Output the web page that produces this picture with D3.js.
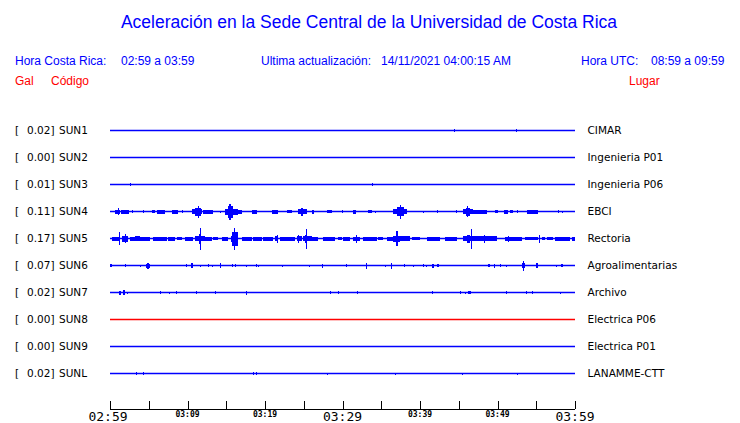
<!DOCTYPE html>
<html><head><meta charset="utf-8">
<script src="https://cdn.jsdelivr.net/npm/d3@7"></script>
<style>body{margin:0;background:#fff}svg{display:block}</style>
</head><body>
<script>
// ---- data ----
const codes = ["SUN1","SUN2","SUN3","SUN4","SUN5","SUN6","SUN7","SUN8","SUN9","SUNL"];
const peaks = ["0.02","0.00","0.01","0.11","0.17","0.07","0.02","0.00","0.00","0.02"];
const places = ["CIMAR","Ingenieria P01","Ingenieria P06","EBCI","Rectoria","Agroalimentarias","Archivo","Electrica P06","Electrica P01","LANAMME-CTT"];
const traceColors = ["blue","blue","blue","blue","blue","blue","blue","red","blue","blue"];
const tickMinutes = [0,5,10,15,20,25,30,35,40,45,50,55,60];
const tickLabels = ["02:59","03:09","03:19","03:29","03:39","03:49","03:59"];
const labelMinutes = [0,10,20,30,40,50,60];
const bigLabels = ["02:59","03:29","03:59"];
// events per station: [startMinute, endMinute, relative amplitude]
const sun1 = [[44.4,44.5,1.5],[52.4,52.5,1.5]];
const sun2 = [];
const sun3 = [[2.6,2.7,1.5],[33.8,33.9,1.5]];
const sun4 = [[0.6,1.3,2],[1.0,1.1,3.5],[1.4,2.4,2],[2.9,3.0,1.5],[4.2,4.3,1.5],[5.4,5.8,1.5],[6.1,7.1,2],[8.0,8.8,2],[9.3,9.4,1.5],[10.6,11.9,2.5],[11.0,11.7,4],[11.3,11.4,6],[12.0,13.3,2],[14.2,14.3,1],[14.8,16.5,3],[15.2,15.9,6],[15.4,15.6,8],[16.5,17.0,2],[18.3,19.0,2],[20.9,21.7,2],[22.8,23.5,1.5],[24.2,25.4,2.5],[24.6,24.9,4],[26.1,26.3,2],[28.0,28.7,1.5],[29.9,30.1,1.5],[31.3,31.8,2],[33.3,33.8,1.5],[34.2,34.3,1],[36.5,38.3,2.5],[37.0,37.9,4.5],[37.4,37.6,7],[40.4,40.5,1],[42.2,42.3,1.5],[44.7,44.8,1.5],[45.6,46.8,2.5],[45.9,46.4,4],[46.0,46.1,5.5],[46.8,48.6,2],[49.7,50.1,1.5],[50.8,51.4,2],[51.6,52.0,1.5],[52.5,52.6,1.5],[53.8,55.2,2],[57.8,57.9,1.5],[58.3,58.4,1]];
const sun5 = [[0.26,1.3,2],[1.16,1.25,6.5],[1.5,2.3,3],[1.9,2.0,4.5],[2.6,3.2,2],[3.2,3.9,2.5],[3.9,5.2,2],[5.5,7.4,2],[7.5,8.4,2],[8.6,9.3,1.5],[9.7,10.7,2],[11.0,12.3,2.5],[11.5,11.8,5],[11.6,11.7,11],[12.3,13.2,2],[13.3,13.9,1.5],[14.4,15.2,2],[15.6,16.5,3],[15.7,16.5,7],[16.0,16.1,11],[17.0,18.3,2],[18.4,19.6,2],[19.7,21.0,2],[21.3,21.7,2.5],[21.5,21.6,4],[21.9,23.9,2],[24.1,24.8,2.5],[24.2,24.3,4],[24.9,26.0,2.5],[25.2,25.4,4],[25.3,25.4,10],[26.1,26.8,2],[27.5,29.0,2],[29.4,29.9,1.5],[30.1,31.0,2],[31.3,32.3,2],[31.8,31.9,4],[32.6,34.4,2],[34.6,35.2,1.5],[35.7,36.5,2],[36.5,37.4,3],[36.9,37.1,7.5],[37.4,38.7,2.5],[39.0,40.0,1.5],[40.9,42.6,2],[43.2,44.8,2],[45.5,46.7,2.5],[46.0,46.5,4],[46.6,46.7,10],[46.7,49.9,2.5],[48.3,48.4,4],[51.0,53.2,2],[51.3,51.4,3],[53.6,55.2,1.5],[55.4,55.5,4],[55.7,56.1,1.5],[56.4,57.2,1.5],[57.4,59.4,2],[59.6,60,2]];
const sun6 = [[0,0.3,1.5],[1.9,2.0,1.5],[3.9,4.0,1],[4.6,5.2,2],[4.8,5.0,3],[9.8,9.9,1.5],[10.5,10.7,2.5],[11.6,11.7,1],[12.6,12.7,1.5],[13.2,13.3,1],[14.2,14.3,2.5],[15.8,15.9,1.5],[16.1,16.2,1.5],[17.5,17.6,1],[18.8,18.9,1.5],[19.1,19.2,1],[21.4,21.5,0.8],[22.2,22.3,1],[24.3,24.4,0.8],[25.7,25.8,1],[27.3,27.5,2],[30.5,30.6,1.5],[33.0,33.1,3],[35.5,35.6,1],[36.2,36.3,3],[37.9,38.1,1.5],[39.1,39.2,1],[40.4,40.5,1.5],[40.8,40.9,1],[41.6,41.8,2],[42.2,42.5,1.5],[48.8,49.0,1.5],[49.5,49.6,2],[50.3,50.4,1.5],[51.1,51.2,1],[53.2,53.5,2.5],[53.3,53.4,5],[55.0,55.2,2.5],[57.6,57.7,1],[58.2,58.4,1.5]];
const sun7 = [[1.1,1.4,2],[1.7,1.9,2.5],[2.2,2.3,1],[6.4,6.5,1.5],[7.6,7.7,1],[8.5,8.7,1.5],[11.1,11.2,1.5],[13.5,13.6,1.5],[17.5,17.6,2],[28.4,28.5,1.5],[29.4,29.5,1.5],[31.9,32.0,1.5],[41.5,41.6,1.5],[45.1,45.2,1.5],[45.8,45.9,1],[46.2,46.6,1.5],[51.1,51.2,1.5],[53.7,53.8,1.5],[54.5,54.6,1.5],[58.0,58.1,1]];
const sun8 = [];
const sun9 = [];
const sunl = [[3.4,3.5,1.5],[4.2,4.3,1.5],[18.4,18.5,1.5],[18.8,18.9,1.5],[28.0,28.1,1],[36.8,36.9,1],[45.4,45.5,1],[52.5,52.6,1]];
const events = [sun1,sun2,sun3,sun4,sun5,sun6,sun7,sun8,sun9,sunl];

// ---- drawing ----
const W = 740, H = 423;
const svg = d3.select("body").append("svg").attr("width", W).attr("height", H);
const x = d3.scaleLinear().domain([0,60]).range([110,575]);
const y = d3.scalePoint().domain(codes).range([130,373]);
const amp = d3.scaleLinear().domain([-12,12]).range([12,-12]);
const sans = "'Liberation Sans', Arial, sans-serif";
const dj = "'DejaVu Sans', sans-serif";
const mono = "'DejaVu Sans Mono', monospace";

svg.append("text").attr("x", 369).attr("y", 28).attr("text-anchor","middle")
  .attr("font-family", sans).attr("font-size", 17.5).attr("fill","#0000ff")
  .text("Aceleración en la Sede Central de la Universidad de Costa Rica");

const hdr = [["Hora Costa Rica:",15],["02:59 a 03:59",121],["Ultima actualización:",261],["14/11/2021 04:00:15 AM",381],["Hora UTC:",581],["08:59 a 09:59",651]];
svg.selectAll("text.hdr").data(hdr).join("text").attr("class","hdr")
  .attr("x", d=>d[1]).attr("y", 65).attr("font-family", sans).attr("font-size", 12)
  .attr("fill","#0000ff").text(d=>d[0]);
const hdr2 = [["Gal",15],["Código",51],["Lugar",629]];
svg.selectAll("text.hdr2").data(hdr2).join("text").attr("class","hdr2")
  .attr("x", d=>d[1]).attr("y", 85).attr("font-family", sans).attr("font-size", 12)
  .attr("fill","#ff0000").text(d=>d[0]);

const rows = svg.selectAll("g.row").data(codes).join("g").attr("class","row")
  .attr("transform", d=>`translate(0,${y(d)})`);
rows.append("text").attr("x",15).attr("y",4).attr("font-family",dj).attr("font-size",10.5).text("[");
rows.append("text").attr("x",27).attr("y",4).attr("font-family",dj).attr("font-size",10.5).text((d,i)=>peaks[i]+"]");
rows.append("text").attr("x",59).attr("y",4).attr("font-family",dj).attr("font-size",10.5).text(d=>d);
rows.append("text").attr("x",587.5).attr("y",4).attr("font-family",dj).attr("font-size",10.5).text((d,i)=>places[i]);
rows.append("line").attr("x1",x(0)).attr("x2",x(60)).attr("y1",0.5).attr("y2",0.5)
  .attr("stroke",(d,i)=>traceColors[i]).attr("stroke-width",1.3);
rows.each(function(d,i){
  d3.select(this).selectAll("rect").data(events[i]).join("rect")
    .attr("x", e=>x(e[0]))
    .attr("width", e=>Math.max(1, x(e[1])-x(e[0])))
    .attr("y", e=>amp(e[2])+0.5)
    .attr("height", e=>amp(-e[2])-amp(e[2]))
    .attr("fill", traceColors[i]).attr("shape-rendering","crispEdges");
});

// time axis
const axisY = 409;
const ax = svg.append("g");
ax.append("line").attr("x1",x(0)).attr("x2",x(60)).attr("y1",axisY+0.5).attr("y2",axisY+0.5).attr("stroke","#000");
ax.selectAll("line.tk").data(tickMinutes).join("line").attr("class","tk")
  .attr("x1",d=>Math.round(x(d))+0.5).attr("x2",d=>Math.round(x(d))+0.5)
  .attr("y1",axisY-8).attr("y2",axisY).attr("stroke","#000");
ax.selectAll("text.tl").data(labelMinutes).join("text").attr("class","tl")
  .attr("x",(d,i)=>x(d) - (i===0 ? 2 : 0)).attr("text-anchor","middle")
  .attr("y",(d,i)=>bigLabels.includes(tickLabels[i]) ? 421 : 417)
  .attr("font-family",mono)
  .attr("font-weight",(d,i)=>bigLabels.includes(tickLabels[i]) ? "normal" : "bold")
  .attr("font-size",(d,i)=>bigLabels.includes(tickLabels[i]) ? 13 : 8)
  .text((d,i)=>tickLabels[i]);
</script>
</body></html>
